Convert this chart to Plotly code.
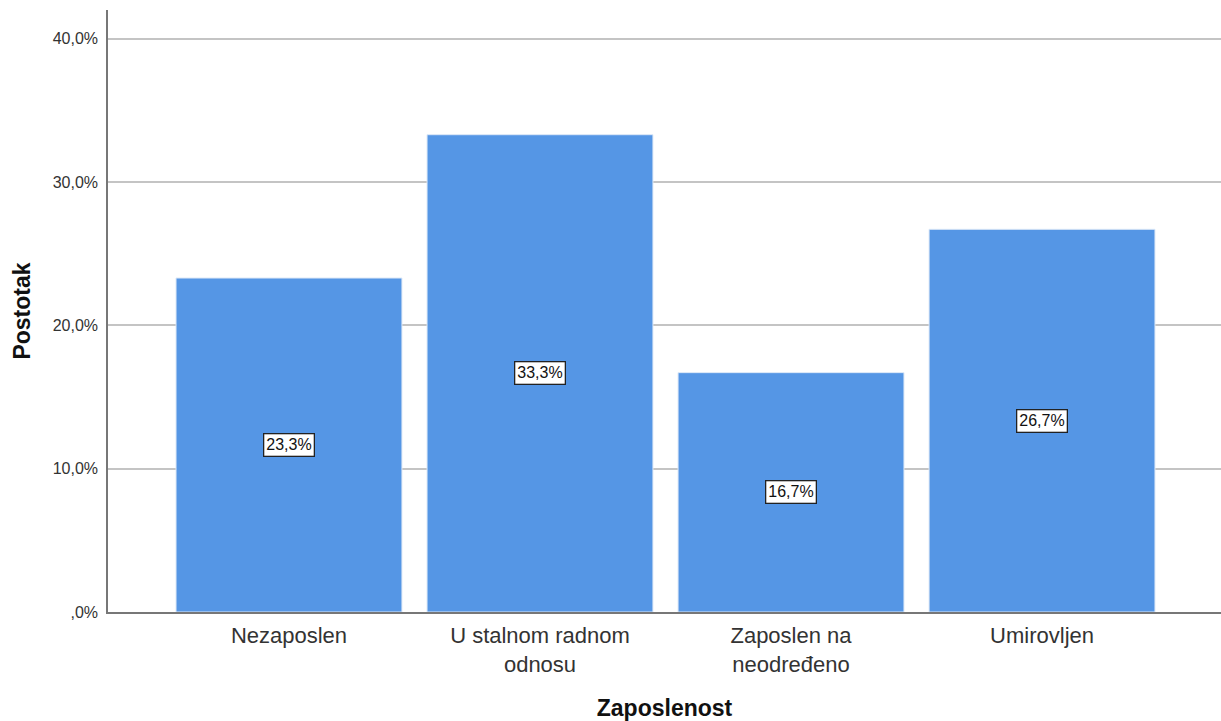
import plotly.graph_objects as go

categories = ["Nezaposlen", "U stalnom radnom<br>odnosu", "Zaposlen na<br>neodređeno", "Umirovljen"]
values = [23.3, 33.3, 16.7, 26.7]
y_tickvals = [0, 10, 20, 30, 40]
y_ticktext = [",0%", "10,0%", "20,0%", "30,0%", "40,0%"]
label_text = ["23,3%", "33,3%", "16,7%", "26,7%"]

xpos = list(range(len(categories)))
FONT = "Liberation Sans, Arial"

fig = go.Figure()
fig.add_trace(go.Bar(
    x=xpos, y=values, width=0.9,
    marker=dict(color="#5596e5", line=dict(color="#dce8f7", width=1)),
    hoverinfo="skip", showlegend=False,
))

for xi, v, t in zip(xpos, values, label_text):
    fig.add_annotation(
        x=xi, y=v / 2, text=t, showarrow=False,
        font=dict(family=FONT, size=16, color="#111"),
        bgcolor="white", bordercolor="#222", borderwidth=1.3, borderpad=2,
    )

fig.update_layout(
    width=1221, height=721,
    margin=dict(l=108, r=0, t=10, b=109),
    plot_bgcolor="white", paper_bgcolor="white",
    font=dict(family=FONT, color="#222"),
    bargap=0.1,
)
fig.update_xaxes(
    range=[-0.721, 3.713],
    tickvals=xpos, ticktext=categories,
    tickfont=dict(size=22, color="#333"),
    showgrid=False, zeroline=False,
    showline=True, linecolor="#777", linewidth=1.5,
    ticks="outside", ticklen=3, tickcolor="white",
    title=dict(text="<b>Zaposlenost</b>", font=dict(size=23, color="#111"), standoff=26),
)
fig.update_yaxes(
    range=[0, 42.0],
    tickvals=y_tickvals, ticktext=y_ticktext,
    tickfont=dict(size=16, color="#333"),
    showgrid=True, gridcolor="#c4c4c4", gridwidth=1.5,
    zeroline=False,
    showline=True, linecolor="#777", linewidth=1.5,
    ticks="outside", ticklen=5, tickcolor="white",
    title=dict(text="<b>Postotak</b>", font=dict(size=23, color="#111"), standoff=16),
)

fig.write_html("out.html", config={"displayModeBar": False},
               post_script="document.body.style.margin='0';")
